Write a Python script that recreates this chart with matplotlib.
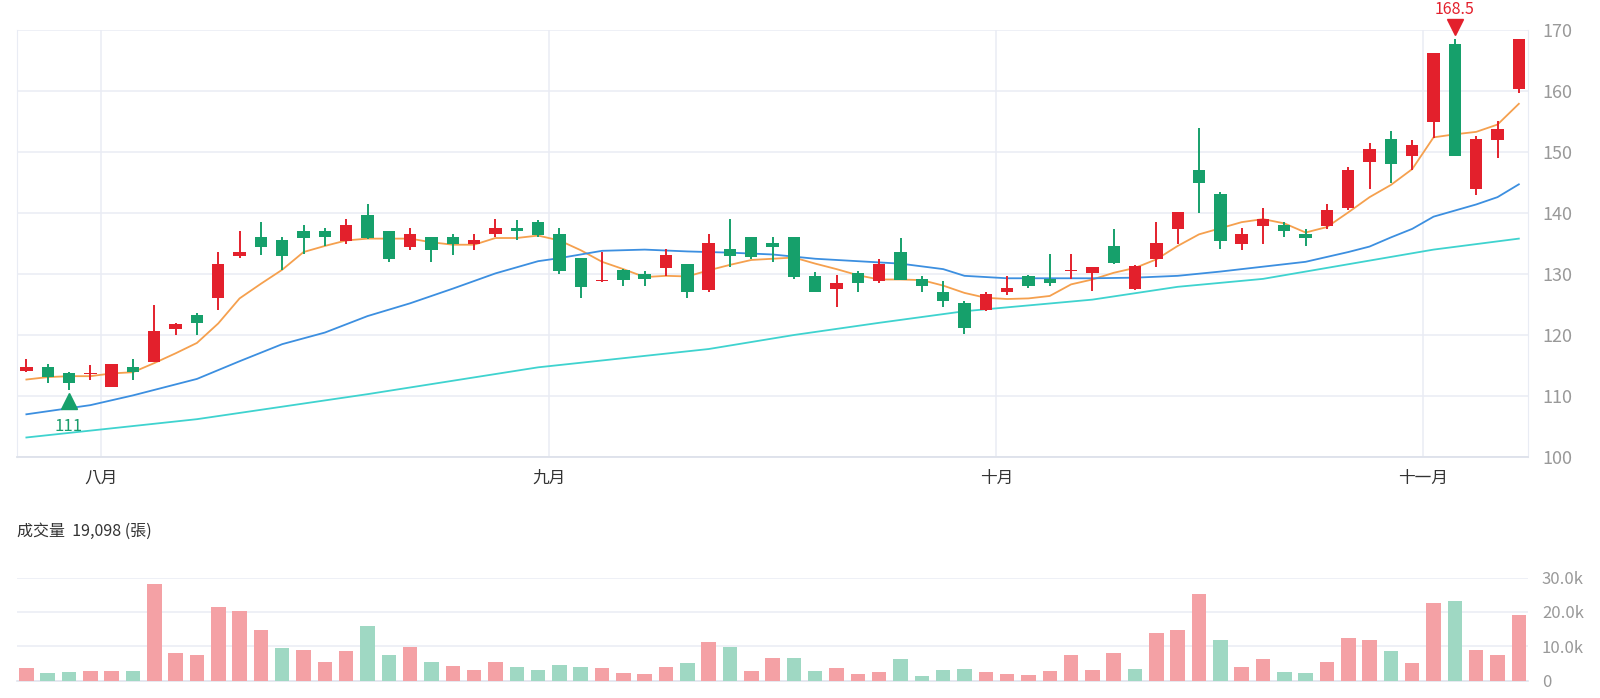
import matplotlib
matplotlib.use('Agg')
import matplotlib.pyplot as plt
import matplotlib.transforms as mtransforms
import numpy as np

plt.rcParams['font.family'] = ['Noto Sans CJK TC', 'DejaVu Sans']

# daily candles (price in NT$)
opens = [114.1, 114.7, 113.7, 113.6, 111.5, 114.7, 115.5, 121.0, 123.2, 126.0,
         133.0, 136.0, 135.6, 137.0, 137.1, 135.4, 139.6, 137.0, 134.4, 136.0,
         136.0, 134.9, 136.5, 137.6, 138.5, 136.6, 132.6, 128.8, 130.6, 130.0,
         131.0, 131.6, 127.4, 134.1, 136.1, 135.1, 136.1, 129.6, 127.5, 130.1,
         128.9, 133.6, 129.2, 127.1, 125.2, 124.1, 127.0, 129.7, 129.2, 130.5,
         130.1, 134.6, 127.5, 132.5, 137.4, 147.1, 143.1, 134.9, 137.9, 138.1,
         136.5, 137.8, 140.8, 148.4, 152.1, 149.4, 154.9, 167.7, 143.9, 152.0,
         160.4]
highs = [116.1, 115.2, 114.0, 115.1, 115.3, 116.0, 125.0, 122.0, 123.6, 133.6,
         137.0, 138.5, 136.0, 138.0, 137.5, 139.0, 141.5, 137.1, 137.5, 136.1,
         136.6, 136.6, 139.0, 138.9, 138.8, 137.5, 132.7, 133.6, 130.9, 130.5,
         134.1, 131.7, 136.6, 139.0, 136.1, 136.1, 136.1, 130.4, 129.9, 130.5,
         132.5, 135.9, 129.6, 128.9, 125.5, 127.0, 129.6, 129.9, 133.2, 133.2,
         131.2, 137.4, 131.5, 138.5, 140.1, 154.0, 143.4, 137.5, 140.9, 138.6,
         137.4, 141.5, 147.5, 151.5, 153.5, 152.0, 166.3, 168.5, 152.7, 155.1,
         168.5]
lows = [114.0, 112.2, 111.0, 112.7, 111.5, 112.7, 115.5, 120.0, 120.0, 124.1,
        132.6, 133.1, 130.6, 133.2, 134.6, 135.0, 135.8, 132.0, 134.0, 132.0,
        133.1, 134.0, 136.0, 135.6, 136.1, 130.0, 126.1, 128.7, 128.1, 128.1,
        129.6, 126.1, 127.1, 131.1, 132.5, 132.0, 129.1, 127.0, 124.6, 127.0,
        128.6, 129.0, 127.1, 124.6, 120.1, 124.0, 126.6, 127.7, 128.1, 129.2,
        127.2, 131.6, 127.4, 131.2, 134.9, 140.0, 134.1, 133.9, 134.9, 136.0,
        134.6, 137.4, 140.5, 143.9, 145.0, 147.1, 152.3, 149.4, 143.0, 149.0,
        159.6]
closes = [114.7, 113.1, 112.1, 113.8, 115.3, 114.0, 120.7, 121.8, 122.0, 131.7,
          133.6, 134.4, 132.9, 135.9, 136.0, 138.1, 135.9, 132.4, 136.6, 134.0,
          135.0, 135.5, 137.6, 137.0, 136.4, 130.5, 127.9, 129.0, 129.05, 129.1,
          133.1, 127.0, 135.1, 132.9, 132.8, 134.4, 129.5, 127.0, 128.6, 128.6,
          131.7, 129.0, 128.1, 125.5, 121.1, 126.7, 127.7, 128.1, 128.5, 130.7,
          131.1, 131.8, 131.3, 135.1, 140.1, 144.9, 135.4, 136.5, 139.0, 137.0,
          135.9, 140.5, 147.1, 150.5, 148.0, 151.1, 166.3, 149.4, 152.1, 153.7,
          168.5]

# volume in thousand lots, and whether the day closed up (1) or down (0)
volume_k = [3.75, 2.3, 2.6, 2.9, 2.8, 2.8, 28.2, 8.0, 7.5, 21.4,
            20.3, 14.7, 9.4, 8.9, 5.4, 8.5, 16.0, 7.6, 9.9, 5.5,
            4.2, 3.1, 5.4, 3.9, 3.2, 4.6, 4.0, 3.8, 2.1, 1.9,
            4.1, 5.1, 11.2, 9.8, 2.9, 6.6, 6.6, 2.7, 3.6, 1.8,
            2.6, 6.2, 1.4, 3.1, 3.5, 2.6, 1.8, 1.7, 2.7, 7.4,
            3.0, 7.9, 3.5, 13.8, 14.6, 25.2, 11.9, 3.85, 6.2, 2.5,
            2.3, 5.3, 12.5, 11.8, 8.5, 5.2, 22.6, 23.3, 8.9, 7.5,
            19.098]
vol_up = [1, 0, 0, 1, 1, 0, 1, 1, 1, 1,
          1, 1, 0, 1, 1, 1, 0, 0, 1, 0,
          1, 1, 1, 0, 0, 0, 0, 1, 1, 1,
          1, 0, 1, 0, 1, 1, 0, 0, 1, 1,
          1, 0, 0, 0, 0, 1, 1, 1, 1, 1,
          1, 1, 0, 1, 1, 1, 0, 1, 1, 0,
          0, 1, 1, 1, 0, 1, 1, 0, 1, 1,
          1]

# moving averages
ma5 = [112.7, 113.1, 113.25, 113.25, 113.7, 113.9, 115.4, 117.0, 118.7, 121.9,
       126.0, 128.4, 130.7, 133.6, 134.6, 135.5, 135.8, 135.8, 135.8, 135.2,
       134.8, 134.8, 135.9, 135.9, 136.3, 135.5, 133.9, 132.0, 130.8, 129.5,
       129.7, 129.6, 130.6, 131.5, 132.3, 132.5, 132.7, 131.7, 130.8, 129.8,
       129.1, 129.1, 129.0, 128.1, 126.9, 126.1, 125.9, 126.0, 126.4, 128.3,
       129.1, 130.2, 131.0, 132.4, 134.6, 136.5, 137.5, 138.5, 139.0, 138.3,
       136.8, 137.7, 140.1, 142.6, 144.6, 147.2, 152.4, 152.9, 153.3, 154.5,
       157.9]
ma20_idx = [0, 3, 5, 8, 10, 12, 14, 16, 18, 20, 22, 24, 25, 27, 29, 31, 33, 35, 37, 39,
            41, 43, 44, 46, 48, 50, 52, 54, 56, 58, 60, 61, 62, 63, 64, 65, 66, 67, 68, 69, 70]
ma20 = [107.0, 108.5, 110.1, 112.8, 115.7, 118.5, 120.4, 123.1, 125.2, 127.6,
        130.1, 132.1, 132.6, 133.8, 134.0, 133.7, 133.5, 133.2, 132.5, 132.1,
        131.7, 130.8, 129.7, 129.3, 129.3, 129.3, 129.4, 129.7, 130.4, 131.2,
        132.0, 132.8, 133.6, 134.5, 136.0, 137.4, 139.4, 140.4, 141.4, 142.6, 144.7]
ma60_idx = [0, 8, 16, 24, 32, 36, 40, 44, 50, 54, 58, 62, 66, 70]
ma60 = [103.2, 106.2, 110.3, 114.7, 117.7, 120.0, 122.0, 123.9, 125.8, 127.9,
        129.2, 131.6, 134.0, 135.8]

month_labels = ['八月', '九月', '十月', '十一月']
month_first_idx = [4, 25, 46, 66]

price_ticks = [100, 110, 120, 130, 140, 150, 160, 170]
vol_ticks = [0, 10, 20, 30]
vol_tick_labels = ['0', '10.0k', '20.0k', '30.0k']
vol_title = '成交量  19,098 (張)'

RED = '#e3202c'
GREEN = '#16a06b'
RED_VOL = '#f4a1a5'
GREEN_VOL = '#9fd8c3'
GRID = '#e9ecf4'
LABEL = '#999999'

o = np.array(opens); h = np.array(highs); l = np.array(lows); c = np.array(closes)
x = np.arange(len(o))
up = c >= o
col = np.where(up, RED, GREEN)

fig = plt.figure(figsize=(16, 6.98), dpi=100)
W, H = 1600, 698
ax = fig.add_axes([17 / W, 1 - 457 / H, 1511 / W, 427 / H])
axv = fig.add_axes([17 / W, 1 - 680.6 / H, 1511 / W, 103 / H])

xlim = (-0.44, 70.43)

# price panel
ax.set_xlim(*xlim)
ax.set_ylim(100, 170)
ax.vlines(x, l, h, colors=col, lw=1.4, zorder=3)
body = np.maximum(np.abs(c - o), 0.18)
ax.bar(x, body, bottom=np.minimum(o, c), width=0.58, color=col, zorder=4)

ax.plot(x, ma5, color='#f5a04e', lw=1.3, zorder=2)
ax.plot(ma20_idx, ma20, color='#3c8fe0', lw=1.3, zorder=2)
ax.plot(ma60_idx, ma60, color='#3fd3cf', lw=1.3, zorder=2)

month_pos = [i - 0.5 for i in month_first_idx]
ax.set_xticks(month_pos)
ax.set_xticklabels(month_labels, fontsize=12, color='#333333')
ax.set_yticks(price_ticks)
ax.yaxis.tick_right()
ax.tick_params(axis='y', length=0, pad=10, labelsize=13, labelcolor=LABEL)
ax.tick_params(axis='x', length=0, pad=9)
ax.grid(True, color=GRID, lw=1.1, zorder=0)
for s in ['left', 'right']:
    ax.spines[s].set_color(GRID)
ax.spines['top'].set_visible(False)
ax.spines['bottom'].set_color('#dde1ea')
ax.spines['bottom'].set_linewidth(1.3)

# highest / lowest markers
imax = int(np.argmax(h))
imin = int(np.argmin(l))
up_off = mtransforms.offset_copy(ax.transData, fig=fig, y=9, units='points')
dn_off = mtransforms.offset_copy(ax.transData, fig=fig, y=-8, units='points')
ax.plot(imax, h[imax], marker='v', ms=12, color=RED, transform=up_off, clip_on=False, zorder=5)
ax.plot(imin, l[imin], marker='^', ms=12, color=GREEN, transform=dn_off, clip_on=False, zorder=5)
ax.annotate(f'{h[imax]:g}', (imax, h[imax]), xytext=(0, 21.5), textcoords='offset points',
            ha='center', va='center', fontsize=11.5, color=RED, annotation_clip=False)
ax.annotate(f'{l[imin]:g}', (imin, l[imin]), xytext=(0, -26), textcoords='offset points',
            ha='center', va='center', fontsize=12, color='#1a9d6c', annotation_clip=False)

# volume panel
vcol = [RED_VOL if u else GREEN_VOL for u in vol_up]
axv.set_xlim(*xlim)
axv.set_ylim(0, 30)
axv.bar(x, volume_k, width=0.68, color=vcol, zorder=3)
axv.set_yticks(vol_ticks)
axv.set_yticklabels(vol_tick_labels)
axv.yaxis.tick_right()
axv.set_xticks([])
axv.tick_params(axis='y', length=0, pad=10, labelsize=12, labelcolor=LABEL)
axv.grid(True, axis='y', color=GRID, lw=1.1, zorder=0)
for s in ['left', 'right', 'top']:
    axv.spines[s].set_visible(False)
axv.spines['bottom'].set_color('#e2e5ee')
axv.spines['bottom'].set_linewidth(1.2)

fig.text(17 / W, 1 - 531 / H, vol_title, fontsize=11.5, color='#333333', va='center', ha='left')

fig.savefig('out.png', dpi=100, facecolor='white')
